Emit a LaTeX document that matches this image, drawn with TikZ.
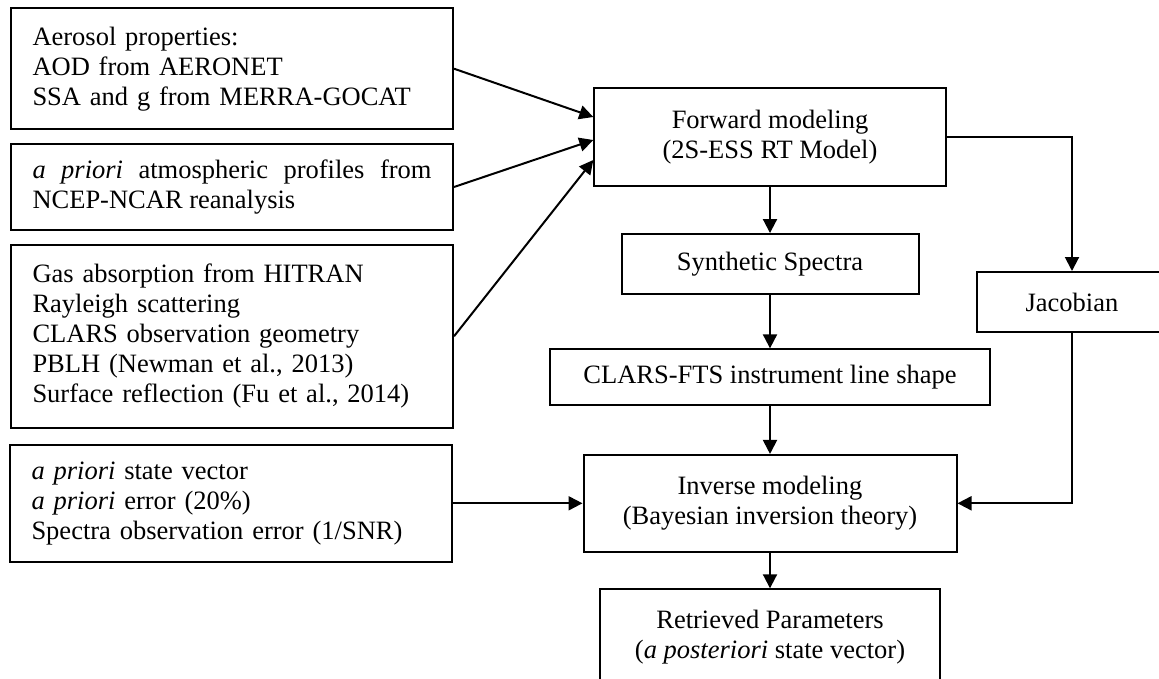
\documentclass[tikz,border=0pt]{standalone}
\usepackage{fontspec}
\setmainfont{Liberation Serif}
\usetikzlibrary{arrows.meta}
\begin{document}
\begin{tikzpicture}[x=1pt,y=-1pt,
  box/.style={draw, line width=2pt, inner sep=0pt, font=\fontsize{26.5}{30}\selectfont},
  lbox/.style={box, text width=399pt, align=left, inner xsep=21.5pt},
  rbox/.style={box, align=center},
  arr/.style={line width=2pt, -{Triangle[length=14pt,width=14pt]}},
  ]
\useasboundingbox (0,0) rectangle (1159,679);
\clip (0,0) rectangle (1159,679);
\tolerance=10000
% left column
\node[lbox, minimum height=120.7pt] (aer) at (232,68.7) {Aerosol properties:\\AOD from AERONET\\SSA and g from MERRA-GOCAT};
\node[lbox, align=justify, minimum height=86pt] (atm) at (232,187) {\textit{a priori} atmospheric profiles from NCEP-NCAR reanalysis};
\node[lbox, minimum height=182.7pt] (gas) at (232,336.3) {Gas absorption from HITRAN\\Rayleigh scattering\\CLARS observation geometry\\PBLH (Newman et al., 2013)\\Surface reflection (Fu et al., 2014)};
\node[lbox, minimum height=116.7pt] (apr) at (231,503.3) {\textit{a priori} state vector\\\textit{a priori} error (20\%)\\Spectra observation error (1/SNR)};
% right column
\node[rbox, minimum width=351.4pt, minimum height=97.4pt] (fwd) at (770,137) {Forward modeling\\(2S-ESS RT Model)};
\node[rbox, minimum width=297pt, minimum height=60.3pt] (syn) at (770,264.2) {Synthetic Spectra};
\node[rbox, minimum width=190pt, minimum height=60pt] (jac) at (1072,302) {Jacobian};
\node[rbox, minimum width=440pt, minimum height=55.7pt] (ils) at (770,377.2) {CLARS-FTS instrument line shape};
\node[rbox, minimum width=373pt, minimum height=96.7pt] (inv) at (770,503.3) {Inverse modeling\\(Bayesian inversion theory)};
\node[rbox, minimum width=339.3pt, minimum height=96.2pt] (ret) at (770,637.4) {Retrieved Parameters\\(\textit{a posteriori} state vector)};
% connectors
\draw[arr] (aer.east) -- ([yshift=20pt]fwd.west);
\draw[arr] (atm.east) -- ([yshift=-3pt]fwd.west);
\draw[arr] (gas.east) -- ([yshift=-23pt]fwd.west);
\draw[arr] (fwd.south) -- (syn.north);
\draw[arr] (syn.south) -- (ils.north);
\draw[arr] (ils.south) -- (inv.north);
\draw[arr] (inv.south) -- (ret.north);
\draw[arr] (fwd.east) -| (jac.north);
\draw[arr] (jac.south) |- (inv.east);
\draw[arr] (apr.east) -- (inv.west);
\end{tikzpicture}
\end{document}
